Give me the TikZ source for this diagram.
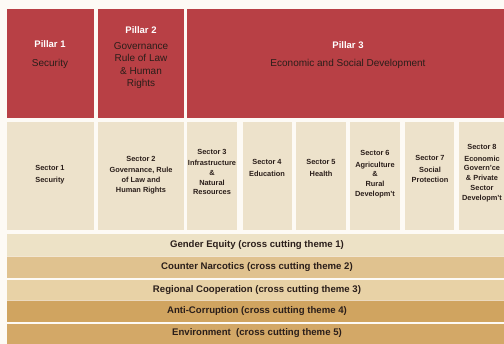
\documentclass[tikz,border=0pt]{standalone}
\usepackage{fontspec}
\setmainfont{Liberation Sans}
\definecolor{bgc}{HTML}{FDFAF5}
\definecolor{pillarred}{HTML}{B84045}
\definecolor{sectorc}{HTML}{EDE2CB}
\definecolor{bandA}{HTML}{EDE2C6}
\definecolor{bandB}{HTML}{E0C28F}
\definecolor{bandC}{HTML}{E8D2A6}
\definecolor{bandD}{HTML}{D0A460}
\definecolor{bandE}{HTML}{D3A867}
\definecolor{darktxt}{HTML}{2A1E1A}
\begin{document}
\begin{tikzpicture}[x=1pt,y=-1pt,
  cell/.style={inner sep=0pt,outer sep=0pt,anchor=north west,draw=none},
  pillar/.style={cell,fill=pillarred},
  sector/.style={cell,fill=sectorc},
  band/.style={cell,minimum width=510pt,font=\fontsize{9.6}{11}\selectfont\bfseries,text=darktxt},
  ptitle/.style={font=\fontsize{9.5}{11}\selectfont\bfseries,text=white,inner sep=0pt},
  pbody/.style={font=\fontsize{10}{12.5}\selectfont,text=darktxt,align=center,inner sep=0pt},
  stext/.style={font=\fontsize{7.4}{9.7}\selectfont\bfseries,text=darktxt,align=center,inner sep=0pt}
]
\fill[bgc] (0,0) rectangle (504,344);
\useasboundingbox (0,0) rectangle (504,344);
% pillars
\node[pillar,minimum width=87pt,minimum height=109pt] (p1) at (7,9) {};
\node[pillar,minimum width=86pt,minimum height=109pt] (p2) at (98,9) {};
\node[pillar,minimum width=330pt,minimum height=109pt] (p3) at (187,9) {};
\node[ptitle] (p1t) at (50,44) {Pillar 1};
\node[pbody] (p1b) at (50,64) {Security};
\node[ptitle] (p2t) at (141,30) {Pillar 2};
\node[pbody,anchor=north] (p2b) at (141,42) {Governance\\Rule of Law\\\& Human\\Rights};
\node[ptitle] (p3t) at (348,45) {Pillar 3};
\node[pbody] (p3b) at (348,64) {Economic and Social Development};
% sectors
\node[sector,minimum width=87pt,minimum height=108pt] (s1) at (7,122) {};
\node[sector,minimum width=86pt,minimum height=108pt] (s2) at (98,122) {};
\node[sector,minimum width=50pt,minimum height=108pt] (s3) at (187,122) {};
\node[sector,minimum width=49pt,minimum height=108pt] (s4) at (243,122) {};
\node[sector,minimum width=50pt,minimum height=108pt] (s5) at (296,122) {};
\node[sector,minimum width=50pt,minimum height=108pt] (s6) at (350,122) {};
\node[sector,minimum width=49pt,minimum height=108pt] (s7) at (405,122) {};
\node[sector,minimum width=60pt,minimum height=108pt] (s8) at (459,122) {};
\node[stext] (s1t) at (50,175) {Sector 1\\[2pt]Security};
\node[stext] (s2t) at (141,175) {Sector 2\\[2pt]Governance, Rule\\of Law and\\Human Rights};
\node[stext] (s3t) at (212,172) {Sector 3\\[2pt]Infrastructure\\\&\\Natural\\Resources};
\node[stext] (s4t) at (267,168) {Sector 4\\[2pt]Education};
\node[stext] (s5t) at (321,168) {Sector 5\\[2pt]Health};
\node[stext] (s6t) at (375,174) {Sector 6\\[2pt]Agriculture\\\&\\Rural\\Developm't};
\node[stext] (s7t) at (430,169) {Sector 7\\[2pt]Social\\Protection};
\node[stext] (s8t) at (482,173) {Sector 8\\[2pt]Economic\\Govern'ce\\\& Private\\Sector\\Developm't};
% bands
\node[band,fill=bandA,minimum height=22pt] (b1) at (7,234) {};
\node[band,fill=bandB,minimum height=22pt] (b2) at (7,256) {};
\node[band,fill=bandC,minimum height=20pt] (b3) at (7,280) {};
\node[band,fill=bandD,minimum height=22pt] (b4) at (7,300) {};
\node[band,fill=bandE,minimum height=22pt] (b5) at (7,324) {};
\node[band,anchor=center,minimum width=0pt] (b1t) at (257,245) {Gender Equity (cross cutting theme 1)};
\node[band,anchor=center,minimum width=0pt] (b2t) at (257,267) {Counter Narcotics (cross cutting theme 2)};
\node[band,anchor=center,minimum width=0pt] (b3t) at (257,290) {Regional Cooperation (cross cutting theme 3)};
\node[band,anchor=center,minimum width=0pt] (b4t) at (257,311) {Anti-Corruption (cross cutting theme 4)};
\node[band,anchor=center,minimum width=0pt] (b5t) at (257,333) {Environment\ \ (cross cutting theme 5)};
\draw[white,opacity=0.6,line width=0.6pt] (b1.south west) -- (b1.south east);
\draw[white,opacity=0.6,line width=0.6pt] (b3.south west) -- (b3.south east);
\end{tikzpicture}
\end{document}
